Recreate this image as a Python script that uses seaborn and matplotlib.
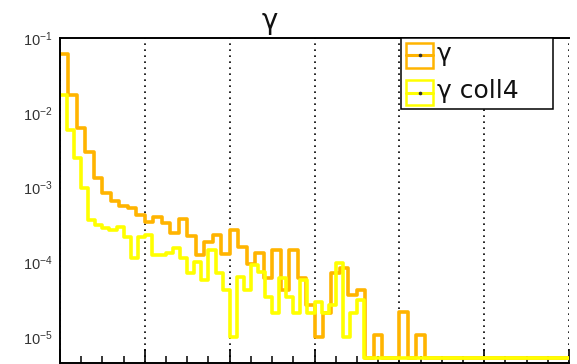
import numpy as np
import pandas as pd
import matplotlib
matplotlib.use("Agg")
import matplotlib.pyplot as plt
import seaborn as sns
from matplotlib.ticker import LogLocator, FixedLocator, NullFormatter
from matplotlib.patches import Rectangle
from matplotlib.lines import Line2D

sns.set_theme(style="white")
plt.rcParams["font.family"] = ["Liberation Sans", "DejaVu Sans"]
plt.rcParams["mathtext.fontset"] = "custom"
plt.rcParams["mathtext.rm"] = "Liberation Sans"
plt.rcParams["mathtext.it"] = "Liberation Sans:italic"
plt.rcParams["mathtext.bf"] = "Liberation Sans:bold"

# axis range shared by both distributions
x_lo, x_hi = 0.0, 6.0
y_lo, y_hi = 4.53e-6, 1e-1
y_floor = 5.2e-6          # level at which empty bins are drawn on the log axis

# all photons: 60 bins
gamma = [6.11e-2, 1.73e-2, 6.24e-3, 2.98e-3, 1.34e-3, 8.41e-4, 6.58e-4, 5.64e-4, 5.30e-4, 4.27e-4,
         3.44e-4, 4.02e-4, 3.34e-4, 2.45e-4, 3.78e-4, 2.24e-4, 1.24e-4, 1.86e-4, 2.31e-4, 1.28e-4,
         2.69e-4, 1.59e-4, 9.44e-5, 1.32e-4, 6.12e-5, 1.45e-4, 4.23e-5, 1.45e-4, 6.12e-5, 2.67e-5,
         9.93e-6, 2.08e-5, 7.14e-5, 8.34e-5, 3.63e-5, 4.23e-5, 0, 1.06e-5, 0, 0,
         2.15e-5, 0, 1.06e-5, 0, 0, 0, 0, 0, 0, 0,
         0, 0, 0, 0, 0, 0, 0, 0, 0, 0]

# coll4 selection: 72 bins
gamma_coll4 = [1.73e-2, 5.86e-3, 2.48e-3, 9.82e-4, 3.66e-4, 3.14e-4, 2.86e-4, 2.69e-4, 2.95e-4, 2.17e-4,
               1.14e-4, 2.17e-4, 2.31e-4, 1.24e-4, 1.24e-4, 1.32e-4, 1.55e-4, 1.14e-4, 7.14e-5, 1.00e-4,
               5.75e-5, 1.45e-4, 7.14e-5, 4.23e-5, 9.93e-6, 6.31e-5, 4.23e-5, 9.15e-5, 7.37e-5, 3.41e-5,
               2.08e-5, 6.12e-5, 3.41e-5, 2.08e-5, 5.75e-5, 2.08e-5, 2.92e-5, 2.08e-5, 2.67e-5, 9.72e-5,
               9.93e-6, 2.08e-5, 3.11e-5, 0, 0, 0, 0, 0, 0, 0,
               0, 0, 0, 0, 0, 0, 0, 0, 0, 0,
               0, 0, 0, 0, 0, 0, 0, 0, 0, 0, 0, 0]

series_names = ["\u03b3", "\u03b3 coll4"]
series_values = [gamma, gamma_coll4]
series_colors = ["#ffb400", "#ffff00"]
title_text = "\u03b3"

W, H = 577, 364


def fx(px):
    return px / W


def fy(py):
    return 1 - py / H


fig = plt.figure(figsize=(W / 100, H / 100), dpi=100)
fig.patch.set_facecolor("white")
ax = fig.add_axes([fx(60), fy(362.5), (569 - 60) / W, (362.5 - 38) / H])
ax.set_facecolor("white")
ax.set_yscale("log")

# inclusive distribution first, coll4 drawn on top of it
for name, vals, col in zip(series_names, series_values, series_colors):
    n = len(vals)
    edges = np.linspace(x_lo, x_hi, n + 1)
    frame = pd.DataFrame({
        "x": 0.5 * (edges[:-1] + edges[1:]),
        "w": [v if v > 0 else y_floor for v in vals],
    })
    sns.histplot(data=frame, x="x", weights="w", bins=n, binrange=(x_lo, x_hi),
                 element="step", fill=False, color=col, linewidth=2.6, ax=ax)

ax.set_xlim(x_lo, x_hi)
ax.set_ylim(y_lo, y_hi)
ax.set_xlabel("")
ax.set_ylabel("")

ax.xaxis.set_major_locator(FixedLocator(np.arange(0, 7, 1)))
ax.xaxis.set_minor_locator(FixedLocator(np.arange(0, 6.01, 0.25)))
ax.xaxis.set_major_formatter(NullFormatter())
ax.yaxis.set_major_locator(LogLocator(base=10, numticks=10))
ax.yaxis.set_minor_locator(LogLocator(base=10, subs=np.arange(2, 10), numticks=10))
ax.yaxis.set_minor_formatter(NullFormatter())

ax.tick_params(axis="both", which="major", direction="in", length=10, width=1.2, color="black")
ax.tick_params(axis="both", which="minor", direction="in", length=5, width=1.1, color="black")
ax.tick_params(axis="y", which="major", labelsize=10.5, pad=5.5, labelcolor="#333333")
ax.tick_params(axis="x", which="both", bottom=True, top=False)

ax.grid(axis="x", which="major", linestyle=(0, (1, 2.6)), color="black", linewidth=1.2)
for side in ["left", "top", "bottom"]:
    ax.spines[side].set_color("black")
    ax.spines[side].set_linewidth(1.4)
ax.spines["right"].set_visible(False)

# title
fig.text(fx(270), fy(29), title_text, ha="center", va="baseline", fontsize=20,
         family=["DejaVu Sans"], color="#111111")

# legend box with one outlined swatch per series
box = Rectangle((fx(400.7), fy(109)), fx(552.7) - fx(400.7), fy(37.5) - fy(109),
                transform=fig.transFigure, fill=True, facecolor="white",
                edgecolor="black", linewidth=1.1, zorder=10)
fig.add_artist(box)
for i, (name, col) in enumerate(zip(series_names, series_colors)):
    top = 42.7 + i * 37.3
    bot = top + 25.3
    mid = 0.5 * (top + bot)
    sw = Rectangle((fx(406), fy(bot)), fx(433) - fx(406), fy(top) - fy(bot),
                   transform=fig.transFigure, fill=False, edgecolor=col, linewidth=1.8, zorder=11)
    fig.add_artist(sw)
    fig.add_artist(Line2D([fx(406), fx(433)], [fy(mid), fy(mid)], transform=fig.transFigure,
                          color=col, linewidth=2.2, zorder=11))
    fig.add_artist(Line2D([fx(419.5)], [fy(mid)], transform=fig.transFigure, marker="o",
                          markersize=1.6, color="#333333", linestyle="none", zorder=12))
    fig.text(fx(437), fy(61.5 + i * 36.5), name, ha="left", va="baseline", fontsize=18,
             family=["DejaVu Sans"], color="#111111", zorder=12)

fig.savefig("out.png", dpi=100, facecolor="white")
